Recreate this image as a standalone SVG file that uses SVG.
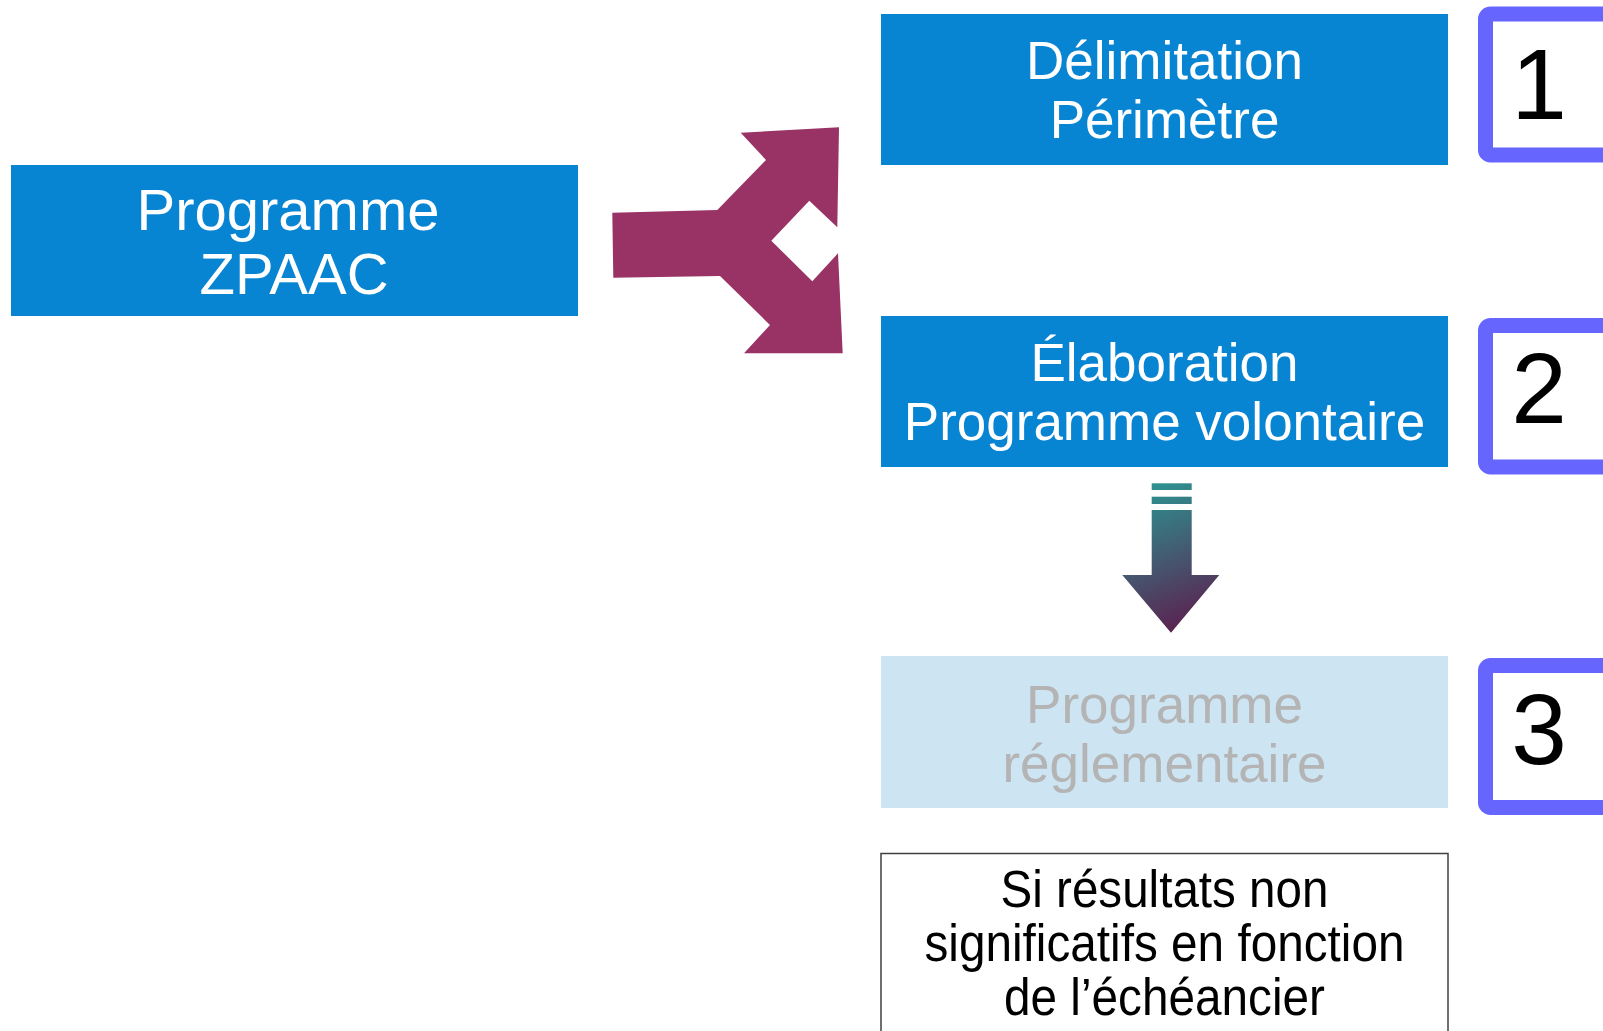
<svg xmlns="http://www.w3.org/2000/svg" width="1603" height="1031" viewBox="0 0 1603 1031">
<style>
.blue{fill:#0784d2}
.wt{font-family:"Liberation Sans",Arial,sans-serif;fill:#ffffff;text-anchor:middle}
.num{fill:#ffffff;stroke:#6666ff;stroke-width:15}
.nt{font-family:"Liberation Sans",Arial,sans-serif;font-size:100px;fill:#000000;text-anchor:middle}
.bt{font-family:"Liberation Sans",Arial,sans-serif;font-size:51px;fill:#000000;text-anchor:middle}
</style>
<defs>
<linearGradient id="g" gradientUnits="userSpaceOnUse" x1="1140" y1="483" x2="1200" y2="633">
<stop offset="0" stop-color="#2b9793"/>
<stop offset="1" stop-color="#5e1a4c"/>
</linearGradient>
</defs>
<rect width="1603" height="1031" fill="#ffffff"/>
<g id="zpaac">
<rect class="blue" x="11" y="165" width="567" height="151"/>
<text class="wt" font-size="58" x="288" y="230">Programme</text>
<text class="wt" font-size="58" x="294" y="294">ZPAAC</text>
</g>
<g id="delimitation">
<rect class="blue" x="881" y="14" width="567" height="151"/>
<text class="wt" font-size="53" x="1164.5" y="79">Délimitation</text>
<text class="wt" font-size="53" x="1164.5" y="138">Périmètre</text>
</g>
<g id="elaboration">
<rect class="blue" x="881" y="316" width="567" height="151"/>
<text class="wt" font-size="53" x="1164.5" y="381">Élaboration</text>
<text class="wt" font-size="53" x="1164.5" y="440">Programme volontaire</text>
</g>
<g id="reglementaire">
<rect fill="#cde4f3" x="881" y="656" width="567" height="152"/>
<text class="wt" font-size="53" x="1164.5" y="723" style="fill:#b4b4b4">Programme</text>
<text class="wt" font-size="53" x="1164.5" y="782" style="fill:#b4b4b4">réglementaire</text>
</g>
<g id="condition">
<rect x="881" y="853.5" width="567" height="200" fill="#ffffff" stroke="#404040" stroke-width="1.5"/>
<text class="bt" x="1164.5" y="907" textLength="328" lengthAdjust="spacingAndGlyphs">Si résultats non</text>
<text class="bt" x="1164.5" y="961" textLength="480" lengthAdjust="spacingAndGlyphs">significatifs en fonction</text>
<text class="bt" x="1164.5" y="1015" textLength="321" lengthAdjust="spacingAndGlyphs">de l’échéancier</text>
</g>
<g id="num1">
<rect class="num" x="1485.5" y="14" width="125" height="141" rx="5"/>
<text class="nt" x="1539" y="119">1</text>
</g>
<g id="num2">
<rect class="num" x="1485.5" y="325.5" width="125" height="141.5" rx="5"/>
<text class="nt" x="1539" y="423">2</text>
</g>
<g id="num3">
<rect class="num" x="1485.5" y="665.5" width="125" height="142" rx="5"/>
<text class="nt" x="1539" y="764">3</text>
</g>
<g id="connectors">
<path fill="#993366" d="M612.3,212.7 L717.3,210 L766,160 L740.7,132.7 L839,127.3 L837.3,227.3 L809.3,200.7 L771.3,240.7 L812.3,281.3 L838,253.3 L842.7,353.3 L744,353.3 L770,325 L720,276 L613.3,277.7 Z"/>
<g fill="url(#g)">
<rect x="1151.7" y="483.3" width="40" height="6.7"/>
<rect x="1151.7" y="496.7" width="40" height="7.3"/>
<path d="M1151.7,510 L1191.7,510 L1191.7,575 L1219.3,575 L1171,632.7 L1122.3,575 L1151.7,575 Z"/>
</g>
</g>
</svg>
